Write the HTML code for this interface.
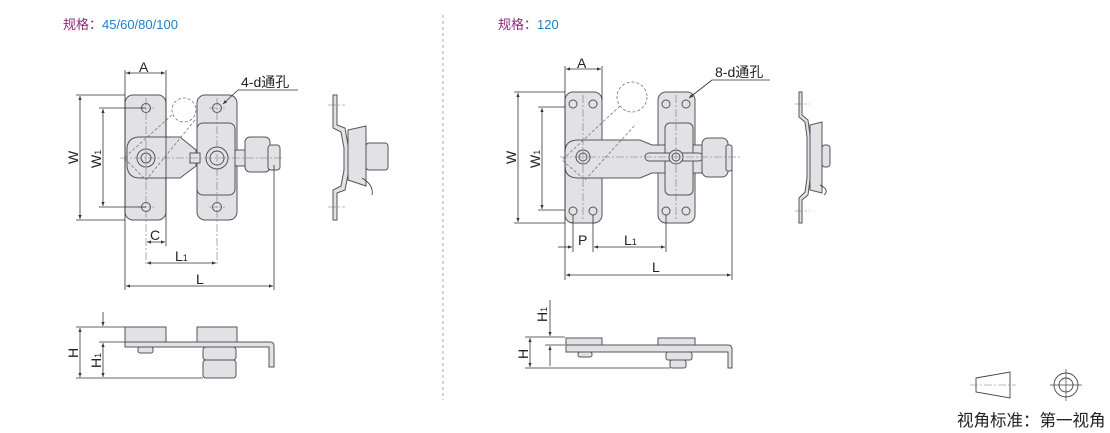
<!DOCTYPE html>
<html><head><meta charset="utf-8"><style>
html,body{margin:0;padding:0;background:#fff;width:1110px;height:433px;overflow:hidden}
svg{display:block}
text{font-family:"Liberation Sans","Noto Sans CJK SC",sans-serif;fill:#222}
.p{fill:#e2e2e6;stroke:#555;stroke-width:1}
.d{stroke:#333;stroke-width:0.8;fill:none}
.c{stroke:#777;stroke-width:0.6;fill:none;stroke-dasharray:8 2 2 2}
.h{stroke:#777;stroke-width:0.8;fill:none;stroke-dasharray:3 2}
</style></head><body>
<svg width="1110" height="433" viewBox="0 0 1110 433">
<defs>
<marker id="a" viewBox="0 0 10 10" refX="10" refY="5" markerWidth="7" markerHeight="5" orient="auto-start-reverse"><path d="M0,1 L10,5 L0,9z" fill="#333"/></marker>
</defs>
<text x="63" y="29" font-size="13"><tspan style="fill:#8b2a7a">规格：</tspan><tspan style="fill:#1f7fc4">45/60/80/100</tspan></text>
<text x="498" y="29" font-size="13"><tspan style="fill:#8b2a7a">规格：</tspan><tspan style="fill:#1f7fc4">120</tspan></text>
<line x1="443" y1="15" x2="443" y2="400" stroke="#aaa" stroke-dasharray="3 3"/>

<rect class="p" x="125" y="95" width="41" height="125" rx="8"/>
<rect class="p" x="197" y="95" width="40" height="125" rx="8"/>
<path class="p" d="M127,148 Q128,137 140,137 L180,137 L196,150 L196,166 L180,178 L140,178 Q128,178 127,166Z"/>
<rect class="p" x="234" y="150" width="14" height="16" rx="3"/>
<rect class="p" x="197" y="123" width="38" height="72" rx="6"/>
<path class="p" d="M190,153 L200,153 L200,163 L190,163Z"/>
<rect class="p" x="245" y="137" width="25" height="35" rx="5"/>
<rect class="p" x="268" y="145" width="12" height="25" rx="3"/>
<circle class="p" cx="146" cy="158" r="9"/><circle class="p" cx="146" cy="158" r="5"/>
<circle class="p" cx="217" cy="158" r="11"/><circle class="p" cx="217" cy="158" r="7"/>
<circle class="p" cx="146" cy="108" r="4.5"/><circle class="p" cx="146" cy="207" r="4.5"/>
<circle class="p" cx="217" cy="108" r="4.5"/><circle class="p" cx="217" cy="207" r="4.5"/>
<circle class="h" cx="184" cy="110" r="12"/>
<path class="h" d="M172,115 L124,158 L146,180 L195,120"/>
<line class="c" x1="120" y1="158" x2="282" y2="158"/>
<line class="c" x1="146" y1="98" x2="146" y2="265"/><line class="c" x1="217" y1="98" x2="217" y2="265"/>
<line class="c" x1="138" y1="108" x2="154" y2="108"/><line class="c" x1="138" y1="207" x2="154" y2="207"/>
<line class="c" x1="209" y1="108" x2="225" y2="108"/><line class="c" x1="209" y1="207" x2="225" y2="207"/>
<g class="d">
<line x1="125" y1="70" x2="125" y2="290"/><line x1="166" y1="70" x2="166" y2="246"/>
<line x1="274" y1="165" x2="274" y2="290"/>
<line x1="126" y1="73" x2="165" y2="73" marker-start="url(#a)" marker-end="url(#a)"/>
<line x1="76" y1="95" x2="125" y2="95"/><line x1="76" y1="220" x2="125" y2="220"/>
<line x1="80" y1="96" x2="80" y2="219" marker-start="url(#a)" marker-end="url(#a)"/>
<line x1="99" y1="108" x2="146" y2="108"/><line x1="99" y1="207" x2="146" y2="207"/>
<line x1="103" y1="109" x2="103" y2="206" marker-start="url(#a)" marker-end="url(#a)"/>
<line x1="147" y1="242" x2="165" y2="242" marker-start="url(#a)" marker-end="url(#a)"/>
<line x1="147" y1="263" x2="216" y2="263" marker-start="url(#a)" marker-end="url(#a)"/>
<line x1="126" y1="286" x2="273" y2="286" marker-start="url(#a)" marker-end="url(#a)"/>
<line x1="238" y1="90" x2="298" y2="90"/><line x1="238" y1="90" x2="223" y2="104" marker-end="url(#a)"/>
</g>
<text x="139" y="72" font-size="14">A</text>
<text x="150" y="240" font-size="14">C</text>
<text x="175" y="261" font-size="14">L<tspan font-size="9">1</tspan></text>
<text x="196" y="284" font-size="14">L</text>
<text x="241" y="87" font-size="14">4-d通孔</text>
<text transform="translate(78,164) rotate(-90)" font-size="14">W</text>
<text transform="translate(101,168) rotate(-90)" font-size="14">W<tspan font-size="9">1</tspan></text>
<path class="p" d="M333,95 L337,95 L337,125 L345,128 L348,145 L348,175 L345,190 L337,193 L337,220 L333,220 L333,190 L341,186 L344,170 L344,148 L341,132 L333,128Z"/>
<path class="p" d="M348,130 L366,126 L366,186 L348,180Z"/>
<rect class="p" x="366" y="143" width="22" height="27" rx="3"/>
<path class="d" d="M362,178 Q374,185 372,195"/>
<line class="c" x1="328" y1="105" x2="345" y2="105"/><line class="c" x1="328" y1="207" x2="345" y2="207"/>
<rect class="p" x="125" y="327" width="41" height="15"/>
<rect class="p" x="197" y="327" width="40" height="15"/>
<path class="p" d="M125,342 L270,342 Q274,342 274,346 L274,367 L269,367 L269,347 L125,347Z"/>
<rect class="p" x="138" y="347" width="15" height="6" rx="2"/>
<rect class="p" x="203" y="347" width="33" height="13" rx="3"/>
<rect class="p" x="203" y="360" width="33" height="18" rx="3"/>
<g class="d">
<line x1="76" y1="327" x2="125" y2="327"/><line x1="99" y1="342" x2="125" y2="342"/><line x1="76" y1="378" x2="203" y2="378"/>
<line x1="80" y1="328" x2="80" y2="377" marker-start="url(#a)" marker-end="url(#a)"/>
<line x1="103" y1="343" x2="103" y2="377" marker-start="url(#a)" marker-end="url(#a)"/>
<line x1="103" y1="312" x2="103" y2="326" marker-end="url(#a)"/>
</g>
<text transform="translate(78,358) rotate(-90)" font-size="14">H</text>
<text transform="translate(101,368) rotate(-90)" font-size="14">H<tspan font-size="9">1</tspan></text>

<rect class="p" x="565" y="92" width="37" height="131" rx="8"/>
<rect class="p" x="658" y="92" width="37" height="131" rx="8"/>
<path class="p" d="M565,152 Q565,140 578,140 L640,140 L652,145 L702,145 L702,173 L652,173 L640,178 L578,178 Q565,178 565,166Z"/>
<rect class="p" x="665" y="123" width="28" height="72" rx="5"/>
<rect class="p" x="645" y="153" width="58" height="8" rx="4"/>
<rect class="p" x="702" y="138" width="26" height="39" rx="6"/>
<rect class="p" x="726" y="145" width="6" height="26" rx="2"/>
<circle class="p" cx="583" cy="157" r="7"/><circle class="p" cx="583" cy="157" r="4"/>
<circle class="p" cx="676" cy="157" r="7"/><circle class="p" cx="676" cy="157" r="4"/>
<g class="p"><circle cx="573" cy="104" r="4"/><circle cx="593" cy="104" r="4"/><circle cx="573" cy="211" r="4"/><circle cx="593" cy="211" r="4"/>
<circle cx="666" cy="104" r="4"/><circle cx="686" cy="104" r="4"/><circle cx="666" cy="211" r="4"/><circle cx="686" cy="211" r="4"/></g>
<circle class="h" cx="632" cy="97" r="15"/>
<path class="h" d="M620,106 L562,160 L585,180 L635,125"/>
<line class="c" x1="560" y1="157" x2="740" y2="157"/>
<line class="c" x1="583" y1="95" x2="583" y2="220"/><line class="c" x1="676" y1="95" x2="676" y2="220"/>
<g class="d">
<line x1="565" y1="66" x2="565" y2="280"/><line x1="602" y1="66" x2="602" y2="100"/>
<line x1="573" y1="215" x2="573" y2="252"/><line x1="593" y1="215" x2="593" y2="252"/><line x1="666" y1="215" x2="666" y2="252"/>
<line x1="732" y1="170" x2="732" y2="280"/>
<line x1="566" y1="69" x2="601" y2="69" marker-start="url(#a)" marker-end="url(#a)"/>
<line x1="514" y1="92" x2="565" y2="92"/><line x1="514" y1="223" x2="565" y2="223"/>
<line x1="518" y1="93" x2="518" y2="222" marker-start="url(#a)" marker-end="url(#a)"/>
<line x1="538" y1="107" x2="565" y2="107"/><line x1="538" y1="210" x2="565" y2="210"/>
<line x1="542" y1="108" x2="542" y2="209" marker-start="url(#a)" marker-end="url(#a)"/>
<line x1="558" y1="247" x2="572" y2="247" marker-end="url(#a)"/>
<line x1="594" y1="247" x2="665" y2="247" marker-start="url(#a)" marker-end="url(#a)"/>
<line x1="566" y1="275" x2="731" y2="275" marker-start="url(#a)" marker-end="url(#a)"/>
<line x1="712" y1="80" x2="770" y2="80"/><line x1="712" y1="80" x2="689" y2="98" marker-end="url(#a)"/>
</g>
<text x="577" y="68" font-size="14">A</text>
<text x="578" y="245" font-size="14">P</text>
<text x="624" y="245" font-size="14">L<tspan font-size="9">1</tspan></text>
<text x="652" y="272" font-size="14">L</text>
<text x="715" y="77" font-size="14">8-d通孔</text>
<text transform="translate(516,164) rotate(-90)" font-size="14">W</text>
<text transform="translate(540,168) rotate(-90)" font-size="14">W<tspan font-size="9">1</tspan></text>
<path class="p" d="M799,92 L802,92 L802,115 L808,120 L810,135 L810,180 L808,195 L802,200 L802,223 L799,223 L799,198 L805,192 L807,178 L807,137 L805,122 L799,117Z"/>
<path class="p" d="M810,125 L822,122 L822,193 L810,190Z"/>
<rect class="p" x="822" y="145" width="8" height="22" rx="3"/>
<path class="d" d="M820,185 Q830,190 824,195"/>
<line class="c" x1="795" y1="104" x2="810" y2="104"/><line class="c" x1="795" y1="211" x2="810" y2="211"/>
<rect class="p" x="566" y="338" width="36" height="7"/>
<rect class="p" x="658" y="338" width="37" height="7"/>
<path class="p" d="M566,345 L728,345 Q732,345 732,349 L732,368 L728,368 L728,352 L566,352Z"/>
<rect class="p" x="578" y="352" width="14" height="5" rx="2"/>
<rect class="p" x="666" y="352" width="26" height="8" rx="2"/>
<rect class="p" x="670" y="360" width="16" height="8" rx="2"/>
<g class="d">
<line x1="525" y1="337" x2="565" y2="337"/><line x1="545" y1="345" x2="565" y2="345"/><line x1="525" y1="368" x2="670" y2="368"/>
<line x1="530" y1="338" x2="530" y2="367" marker-start="url(#a)" marker-end="url(#a)"/>
<line x1="550" y1="300" x2="550" y2="336" marker-end="url(#a)"/>
<line x1="550" y1="366" x2="550" y2="346" marker-end="url(#a)"/>
</g>
<text transform="translate(528,359) rotate(-90)" font-size="14">H</text>
<text transform="translate(547,322) rotate(-90)" font-size="14">H<tspan font-size="9">1</tspan></text>

<path d="M976,378 L1010,372 L1010,398 L976,392Z" fill="none" stroke="#444" stroke-width="0.9"/>
<line class="c" x1="970" y1="385" x2="1016" y2="385"/>
<circle cx="1066" cy="385" r="12" fill="none" stroke="#444" stroke-width="0.9"/>
<circle cx="1066" cy="385" r="7" fill="none" stroke="#444" stroke-width="0.9"/>
<line x1="1050" y1="385" x2="1082" y2="385" stroke="#444" stroke-width="0.7"/>
<line x1="1066" y1="369" x2="1066" y2="401" stroke="#444" stroke-width="0.7"/>
<text x="957" y="426" font-size="16.5">视角标准：第一视角</text>
</svg>
</body></html>
